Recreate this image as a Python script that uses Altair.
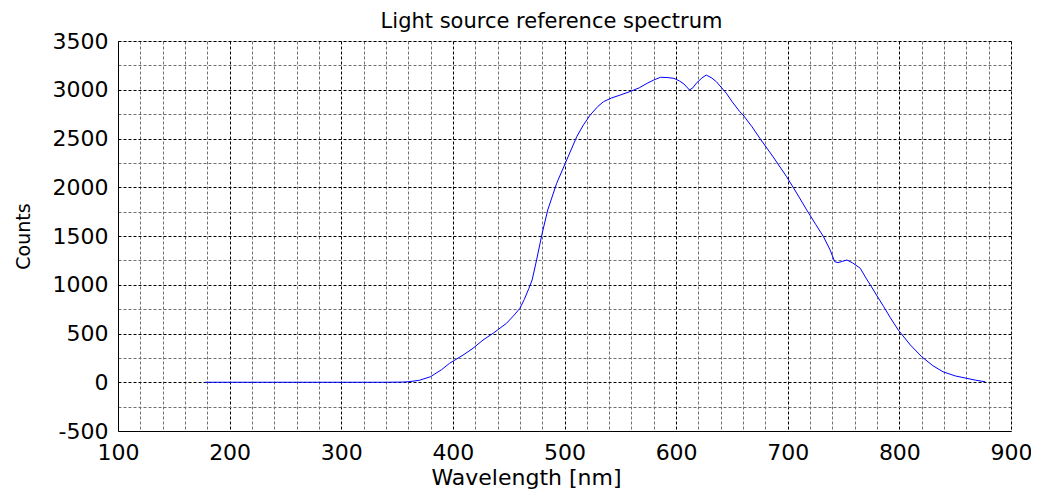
import altair as alt
import pandas as pd

wavelength = [178, 200, 250, 300, 340, 355, 360, 370, 380, 390, 397, 410, 418, 427, 436,
              448, 455, 460, 464, 468, 471, 475, 480, 485, 493, 502, 511, 517, 523, 530,
              535, 542, 550, 560, 567, 574, 580, 586, 592, 598, 603, 607, 612, 615, 618,
              623, 627, 632, 636, 645, 650, 657, 660, 668, 675, 687, 699, 708, 717, 725,
              732, 738, 742, 745, 749, 753, 758, 765, 770, 774, 780, 786, 792, 799, 810,
              820, 830, 839, 850, 860, 868, 874, 877]
counts = [0, 0, 0, 0, 0, 2, 5, 20, 57, 130, 194, 285, 348, 433, 502,
          604, 690, 758, 850, 960, 1049, 1254, 1528, 1767, 2041, 2280, 2519, 2640, 2741, 2830,
          2878, 2915, 2946, 2987, 3020, 3066, 3100, 3128, 3125, 3117, 3090, 3059, 2997, 3020, 3066,
          3120, 3151, 3120, 3083, 2964, 2880, 2775, 2741, 2620, 2502, 2310, 2108, 1940, 1767, 1620,
          1493, 1356, 1237, 1227, 1240, 1254, 1225, 1169, 1070, 998, 885, 775, 660, 536, 380,
          262, 170, 108, 65, 41, 22, 10, 5]

x_ticks = list(range(100, 901, 20))
y_ticks = list(range(-500, 3501, 250))

df = pd.DataFrame({"wavelength": wavelength, "counts": counts})

FONT = "DejaVu Sans"

x_axis = alt.Axis(
    values=x_ticks,
    labelExpr="datum.value % 100 === 0 ? '' + datum.value : ''",
    gridColor={"condition": {"test": "datum.value % 100 === 0", "value": "#000000"}, "value": "#707070"},
    gridDash=[3, 2],
    gridOpacity=1,
    ticks=False,
    domainColor="black",
    labelFont=FONT, labelFontSize=22, labelColor="black", labelPadding=11,
    labelFlush=False,
    title="Wavelength [nm]",
    titleFont=FONT, titleFontSize=22, titleFontWeight="normal", titleColor="black",
    titlePadding=4, titleX=408,
)
y_axis = alt.Axis(
    values=y_ticks,
    labelExpr="datum.value % 500 === 0 ? '' + datum.value : ''",
    gridColor={"condition": {"test": "datum.value % 500 === 0", "value": "#000000"}, "value": "#707070"},
    gridDash=[3, 2],
    gridOpacity=1,
    ticks=False,
    domainColor="black",
    labelFont=FONT, labelFontSize=22, labelColor="black", labelPadding=10,
    labelFlush=False,
    title="Counts",
    titleFont=FONT, titleFontSize=19, titleFontWeight="normal", titleColor="black",
    titlePadding=19,
)

chart = alt.Chart(df).mark_line(color="#0000ff", strokeWidth=1).encode(
    x=alt.X("wavelength:Q", scale=alt.Scale(domain=[100, 900], nice=False, zero=False), axis=x_axis),
    y=alt.Y("counts:Q", scale=alt.Scale(domain=[-500, 3500], nice=False, zero=False), axis=y_axis),
).properties(
    width=893,
    height=390,
    title=alt.TitleParams("Light source reference spectrum", font=FONT, fontSize=21,
                          fontWeight="normal", color="black", dx=-13, dy=2, offset=0),
    autosize=alt.AutoSizeParams(type="none"),
    padding={"left": 110, "top": 33, "right": 20, "bottom": 64},
).configure_view(stroke="black", strokeWidth=1).configure(background="white")

chart.save("out.html", embed_options={"renderer": "svg", "actions": False})
